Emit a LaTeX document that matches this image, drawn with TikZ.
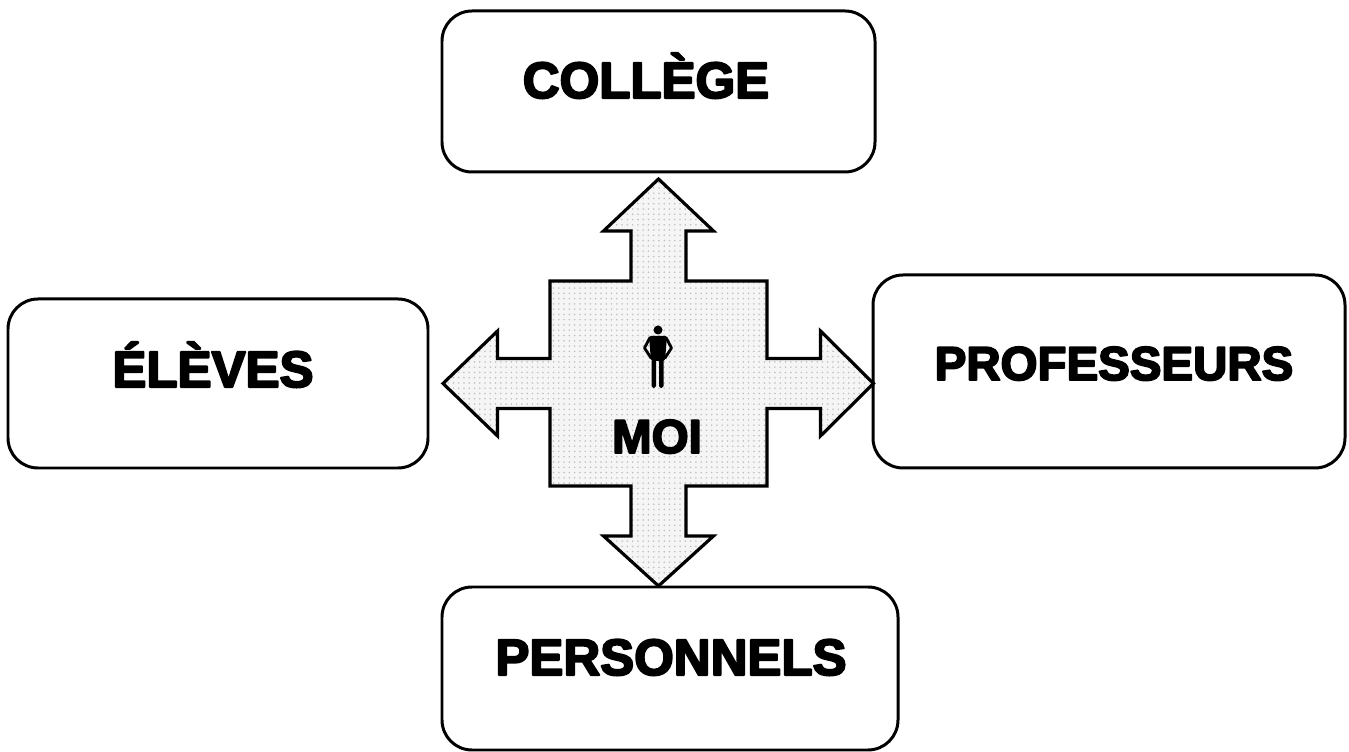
\documentclass[tikz,border=0pt]{standalone}
\usepackage{fontspec}
\setmainfont{Liberation Sans}[BoldFeatures={FakeBold=4}]
\usetikzlibrary{patterns}

\begin{document}
\begin{tikzpicture}[line cap=round,line join=round,x=1.0cm,y=1.0cm,
  pole/.style={draw,line width=1.7pt,rounded corners=0.6cm},
  poletext/.style={anchor=base,inner sep=0pt,font=\fontsize{29}{32}\selectfont\bfseries},
  crossarrow/.style={draw,line width=1.8pt,line join=miter,preaction={fill=gray!8},pattern=dots,pattern color=gray!50}]
\useasboundingbox (0,0) rectangle (26.98,15.04);
\node[pole,minimum width=8.66cm,minimum height=3.22cm] (college) at (13.17,13.21) {};
\node[pole,minimum width=8.4cm,minimum height=3.38cm] (eleves) at (4.36,7.37) {};
\node[pole,minimum width=9.44cm,minimum height=3.86cm] (profs) at (22.18,7.61) {};
\node[pole,minimum width=9.12cm,minimum height=3.26cm] (perso) at (13.4,1.67) {};
\begin{scope}[shift={(13.17,7.37)}]
\draw[crossarrow] (-2.17,2.05) -- (-0.55,2.05) -- (-0.55,3.05) -- (-1.1,3.05) -- (0,4.09) -- (1.1,3.05) -- (0.55,3.05) -- (0.55,2.05) -- (2.17,2.05) -- (2.17,0.5) -- (3.24,0.5) -- (3.24,1.05) -- (4.3,0) -- (3.24,-1.05) -- (3.24,-0.5) -- (2.17,-0.5) -- (2.17,-2.05) -- (0.55,-2.05) -- (0.55,-3.05) -- (1.1,-3.05) -- (0,-4.05) -- (-1.1,-3.05) -- (-0.55,-3.05) -- (-0.55,-2.05) -- (-2.17,-2.05) -- (-2.17,-0.5) -- (-3.22,-0.5) -- (-3.22,-1.05) -- (-4.31,0) -- (-3.22,1.05) -- (-3.22,0.5) -- (-2.17,0.5) -- cycle;
\end{scope}
\begin{scope}[shift={(13.16,8.44)}]
\fill (0,0) circle (0.09);
\fill[rounded corners=1pt] (-0.18,-0.12) -- (0.18,-0.12) -- (0.14,-0.62) -- (-0.14,-0.62) -- cycle;
\draw[line width=1.6pt] (-0.16,-0.15) -- (-0.27,-0.36) -- (-0.14,-0.56);
\draw[line width=1.6pt] (0.16,-0.15) -- (0.27,-0.36) -- (0.14,-0.56);
\fill[rounded corners=1pt] (-0.13,-0.58) rectangle (-0.04,-1.16);
\fill[rounded corners=1pt] (0.02,-0.58) rectangle (0.11,-1.16);
\end{scope}
\node[poletext] (tcollege) at (12.92,13.08) {COLLÈGE};
\node[poletext] (televes) at (4.26,7.30) {ÉLÈVES};
\node[poletext,font=\fontsize{27}{30}\selectfont\bfseries] (tprofs) at (22.28,7.44) {PROFESSEURS};
\node[poletext] (tperso) at (13.42,1.54) {PERSONNELS};
\node[poletext,font=\fontsize{27}{30}\selectfont\bfseries] (tmoi) at (13.14,5.98) {MOI};
\end{tikzpicture}
\end{document}
